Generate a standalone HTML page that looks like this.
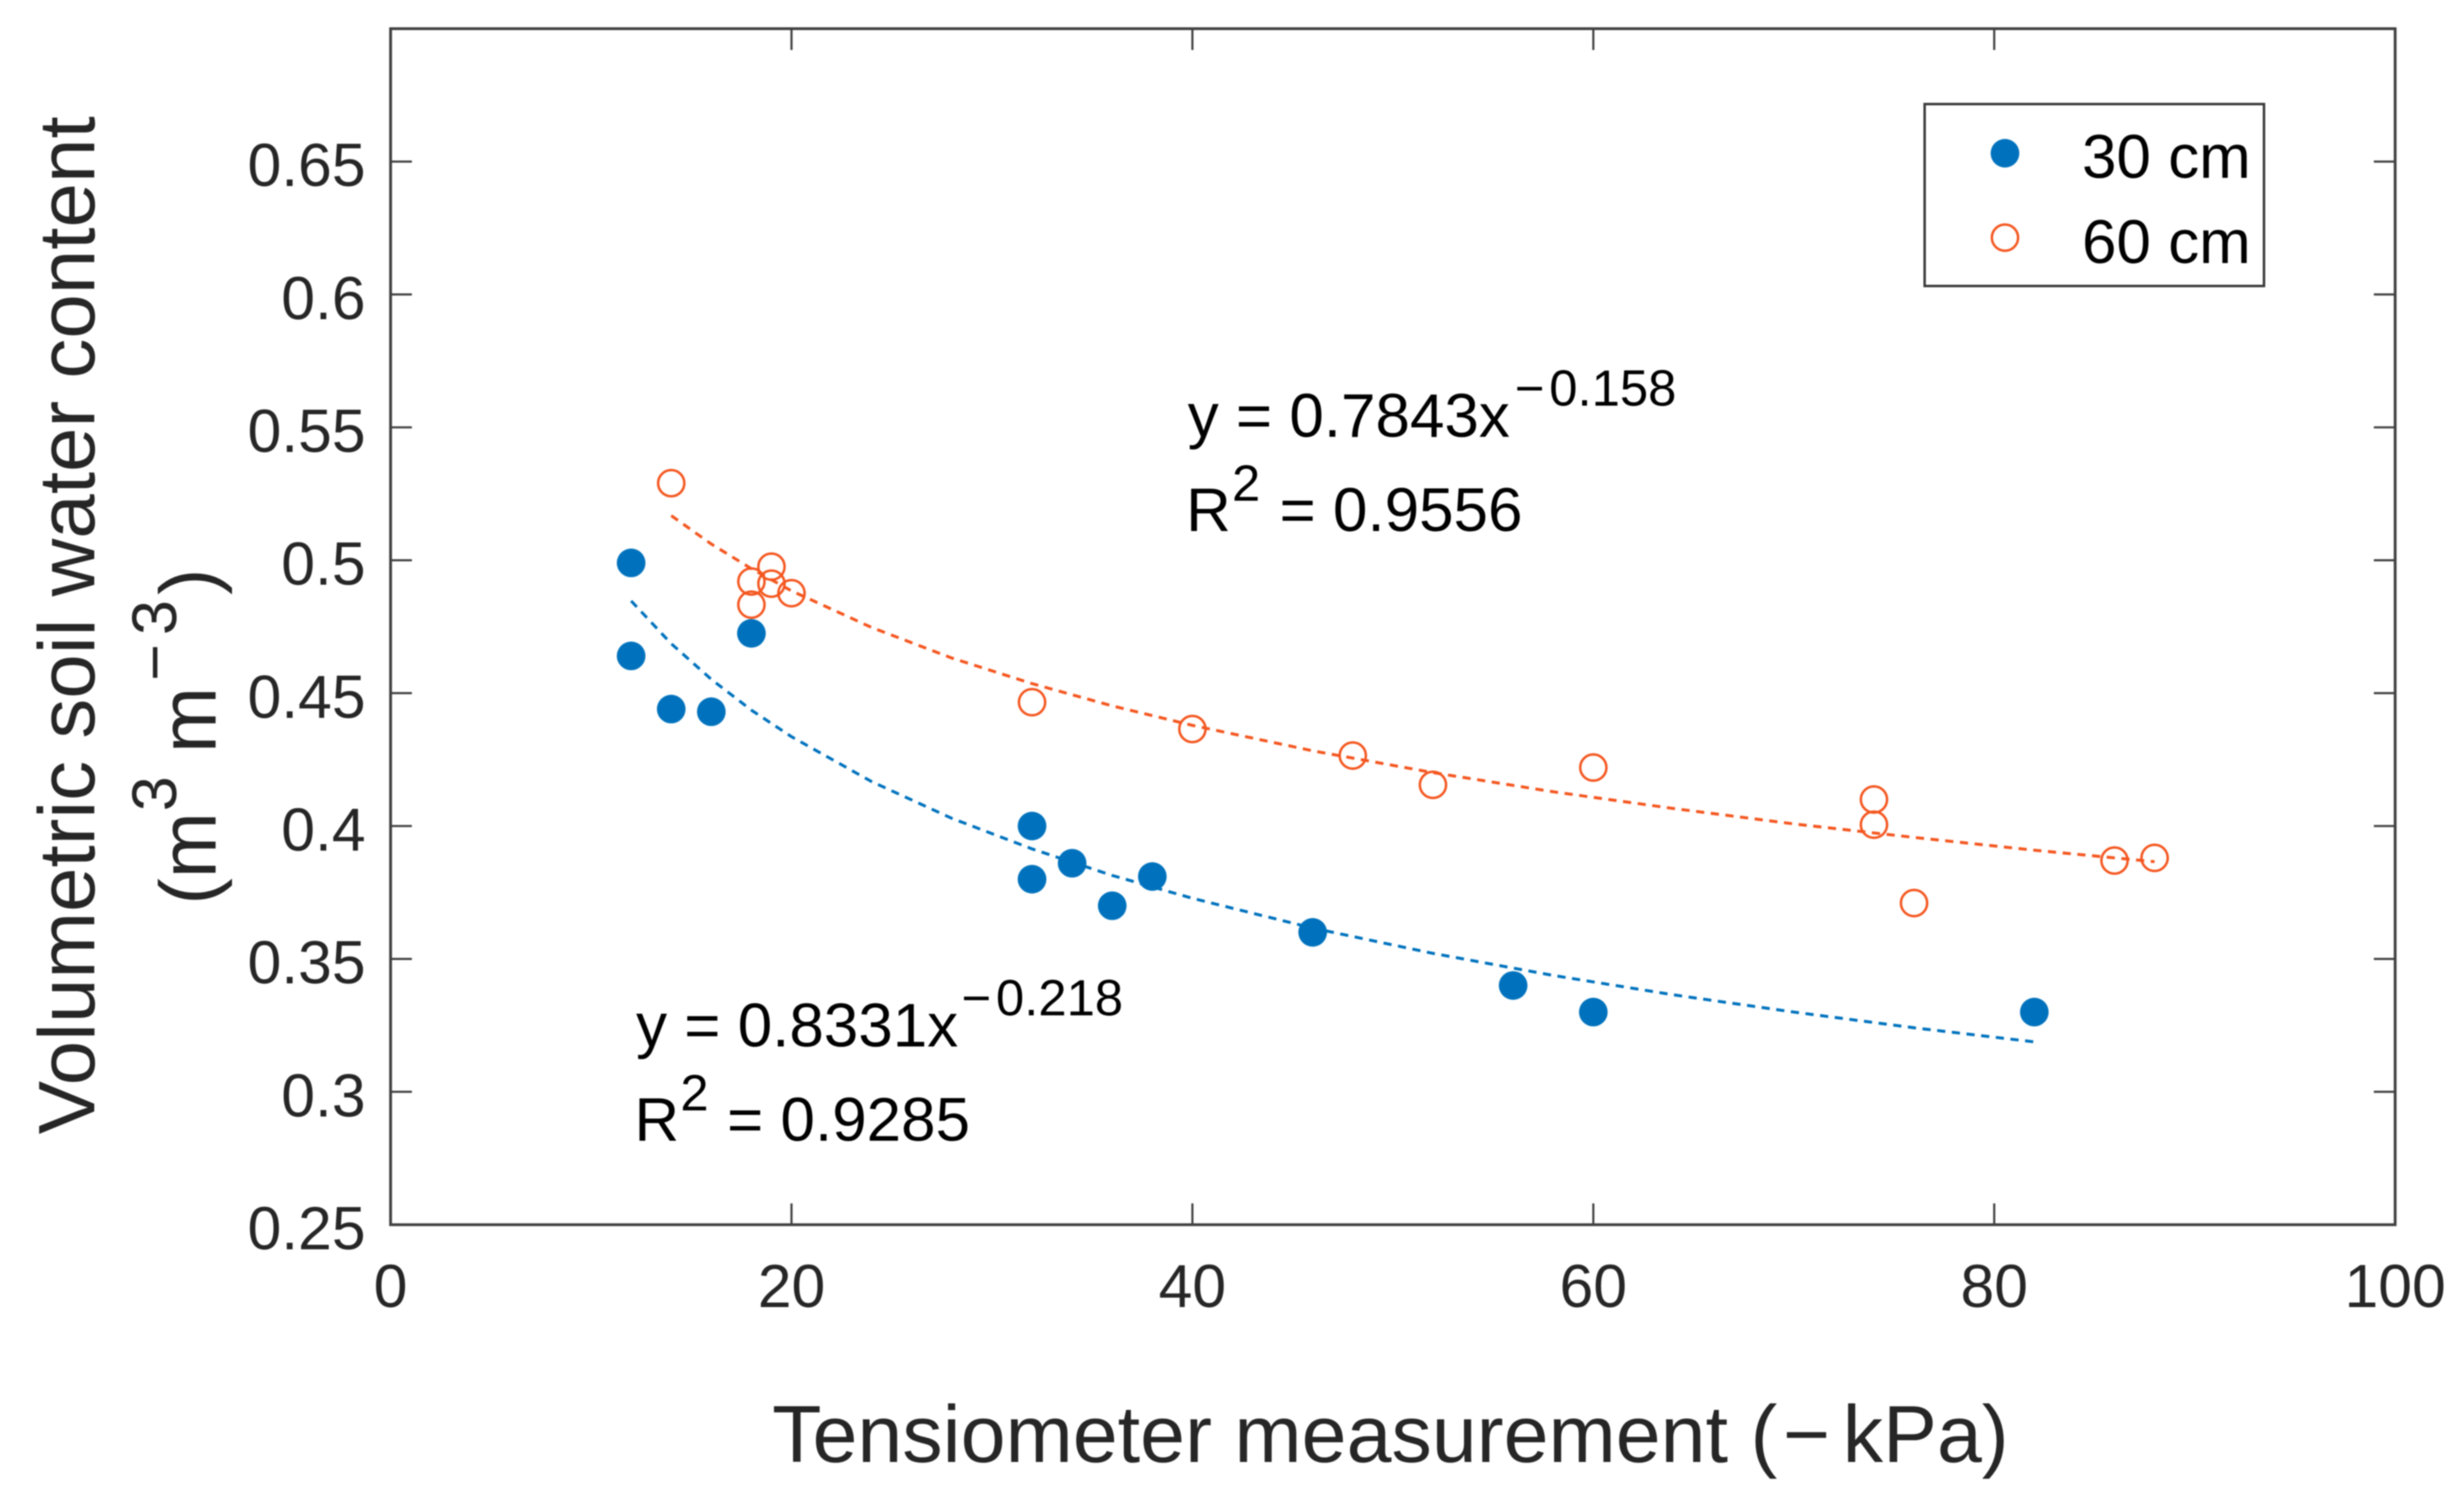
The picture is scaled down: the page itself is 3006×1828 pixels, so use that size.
<!DOCTYPE html>
<html lang="en">
<head>
<meta charset="utf-8">
<title>Volumetric soil water content vs tensiometer measurement</title>
<style>
html,body{margin:0;padding:0;background:#fff;width:3006px;height:1828px;overflow:hidden}
svg{display:block;filter:blur(0.7px)}
text{font-family:"Liberation Sans",Arial,sans-serif}
</style>
</head>
<body>
<svg id="chart" xmlns="http://www.w3.org/2000/svg" width="3006" height="1828" viewBox="0 0 3006 1828">
  <rect x="0" y="0" width="3006" height="1828" fill="#fff"/>
  <g id="trends"></g>
  <g id="marks"></g>
  <g id="axes"></g>

  <text transform="translate(115,763) rotate(-90)" text-anchor="middle" font-size="97.6" fill="#262626">Volumetric soil water content</text>
  <text transform="translate(263,1100) rotate(-90)" font-size="97" fill="#262626"><tspan x="-4" y="0">(m</tspan><tspan x="110" y="-48" font-size="77">3</tspan><tspan x="181" y="0">m</tspan><tspan x="269" y="-48" font-size="77">−</tspan><tspan x="325" y="-48" font-size="77">3</tspan><tspan x="374" y="0">)</tspan></text>
  <text y="1784" font-size="98.5" fill="#262626"><tspan x="942">Tensiometer measurement (</tspan><tspan x="2175">−</tspan><tspan x="2248">kPa)</tspan></text>

  <g fill="#000">
    <text x="1449" y="533" font-size="75.6">y = 0.7843x</text>
    <text y="495" font-size="62"><tspan x="1848">−</tspan><tspan x="1890">0.158</tspan></text>
    <text x="1447" y="648" font-size="75.6">R</text>
    <text x="1503" y="611" font-size="62">2</text>
    <text x="1561" y="648" font-size="75.6">= 0.9556</text>
  </g>
  <g fill="#000">
    <text x="776" y="1277" font-size="75.6">y = 0.8331x</text>
    <text y="1239" font-size="62"><tspan x="1173">−</tspan><tspan x="1215">0.218</tspan></text>
    <text x="774" y="1392" font-size="75.6">R</text>
    <text x="830" y="1355" font-size="62">2</text>
    <text x="887" y="1392" font-size="75.6">= 0.9285</text>
  </g>

  <g>
    <rect x="2348" y="127" width="414" height="222" fill="#fff" stroke="#3a3a3a" stroke-width="3"/>
    <circle cx="2446" cy="187" r="17.5" fill="#0072BD"/>
    <text x="2540" y="217" font-size="75.6" fill="#000">30 cm</text>
    <circle cx="2446" cy="290" r="16" fill="#fff" stroke="#F4561F" stroke-width="3"/>
    <text x="2540" y="321" font-size="75.6" fill="#000">60 cm</text>
  </g>
</svg>
<script>
var xTickValues = [0, 20, 40, 60, 80, 100];
var xTickLabels = ['0', '20', '40', '60', '80', '100'];
var yTickValues = [0.25, 0.3, 0.35, 0.4, 0.45, 0.5, 0.55, 0.6, 0.65, 0.7];
var yTickLabels = ['0.25', '0.3', '0.35', '0.4', '0.45', '0.5', '0.55', '0.6', '0.65', ''];

var depth30X = [12, 12, 14, 16, 18, 32, 32, 34, 36, 38, 46, 56, 60, 82];
var depth30Y = [0.499, 0.464, 0.444, 0.443, 0.4725, 0.4, 0.38, 0.386, 0.37, 0.381, 0.36, 0.34, 0.33, 0.33];
var depth60X = [14, 19, 18, 19, 20, 18, 32, 40, 48, 52, 60, 74, 74, 76, 86, 88];
var depth60Y = [0.529, 0.4976, 0.492, 0.4912, 0.4876, 0.4833, 0.4466, 0.4365, 0.4265, 0.4155, 0.422, 0.41, 0.4005, 0.371, 0.387, 0.388];

var trend30X = [12, 14, 16, 18, 20, 24, 28, 32, 36, 40, 46, 52, 58, 64, 70, 76, 82];
var trend30Y = [0.4847, 0.4686, 0.4552, 0.4436, 0.4336, 0.4167, 0.4029, 0.3914, 0.3814, 0.3728, 0.3616, 0.3521, 0.3438, 0.3365, 0.33, 0.3241, 0.3188];
var trend60X = [14, 16, 18, 20, 24, 28, 32, 36, 40, 46, 52, 58, 64, 70, 76, 82, 88];
var trend60Y = [0.5168, 0.5061, 0.4968, 0.4885, 0.4747, 0.4632, 0.4536, 0.4452, 0.4379, 0.4283, 0.4201, 0.4129, 0.4066, 0.4008, 0.3957, 0.3909, 0.3866];

var NS = 'http://www.w3.org/2000/svg';
var plotLeft = 476.5, plotRight = 2922, plotTop = 35, plotBottom = 1494.5;
var xMin = 0, xMax = 100, yMin = 0.25, yMax = 0.7;
var axisColor = '#3f3f3f', tickColor = '#404040', labelColor = '#262626';
var blue = '#0072BD', orange = '#F4561F';

function xScale(v) { return plotLeft + (v - xMin) / (xMax - xMin) * (plotRight - plotLeft); }
function yScale(v) { return plotBottom - (v - yMin) / (yMax - yMin) * (plotBottom - plotTop); }
function make(tag, attrs, parent) {
  var n = document.createElementNS(NS, tag);
  for (var k in attrs) n.setAttribute(k, attrs[k]);
  parent.appendChild(n);
  return n;
}

var axes = document.getElementById('axes');
var marks = document.getElementById('marks');
var trends = document.getElementById('trends');
var el;

el = make('rect', {x: plotLeft, y: plotTop, width: plotRight - plotLeft, height: plotBottom - plotTop, fill: 'none', stroke: axisColor, 'stroke-width': 3.4}, axes);



xTickValues.forEach(function (v, i) {
  var px = xScale(v);
  if (i > 0 && i < xTickValues.length - 1) {
    el = make('line', {x1: px, x2: px, y1: plotBottom, y2: plotBottom - 26, stroke: tickColor, 'stroke-width': 2.6}, axes);
    
    
    el = make('line', {x1: px, x2: px, y1: plotTop, y2: plotTop + 26, stroke: tickColor, 'stroke-width': 2.6}, axes);
    
    
  }
  el = make('text', {x: px, y: 1595, 'text-anchor': 'middle', 'font-size': 74, fill: labelColor}, axes);
  
  
  el.textContent = xTickLabels[i];
});

yTickValues.forEach(function (v, i) {
  var py = yScale(v);
  if (i > 0 && i < yTickValues.length - 1) {
    el = make('line', {x1: plotLeft, x2: plotLeft + 26, y1: py, y2: py, stroke: tickColor, 'stroke-width': 2.6}, axes);
    
    
    el = make('line', {x1: plotRight, x2: plotRight - 26, y1: py, y2: py, stroke: tickColor, 'stroke-width': 2.6}, axes);
    
    
  }
  if (yTickLabels[i]) {
    el = make('text', {x: 446, y: py + 30, 'text-anchor': 'end', 'font-size': 74, fill: labelColor}, axes);
    
    
    el.textContent = yTickLabels[i];
  }
});

function trendPoints(xs, ys) {
  return xs.map(function (x, i) { return xScale(x).toFixed(1) + ',' + yScale(ys[i]).toFixed(1); }).join(' ');
}
el = make('polyline', {points: trendPoints(trend30X, trend30Y), fill: 'none', stroke: blue, 'stroke-width': 3.6, 'stroke-dasharray': '10 8'}, trends);


el = make('polyline', {points: trendPoints(trend60X, trend60Y), fill: 'none', stroke: orange, 'stroke-width': 3.6, 'stroke-dasharray': '10 8'}, trends);



depth30X.forEach(function (x, i) {
  el = make('circle', {cx: xScale(x), cy: yScale(depth30Y[i]), r: 17.5, fill: blue}, marks);
  
  
});
depth60X.forEach(function (x, i) {
  el = make('circle', {cx: xScale(x), cy: yScale(depth60Y[i]), r: 16, fill: 'none', stroke: orange, 'stroke-width': 3}, marks);
  
  
});
</script>
</body>
</html>
